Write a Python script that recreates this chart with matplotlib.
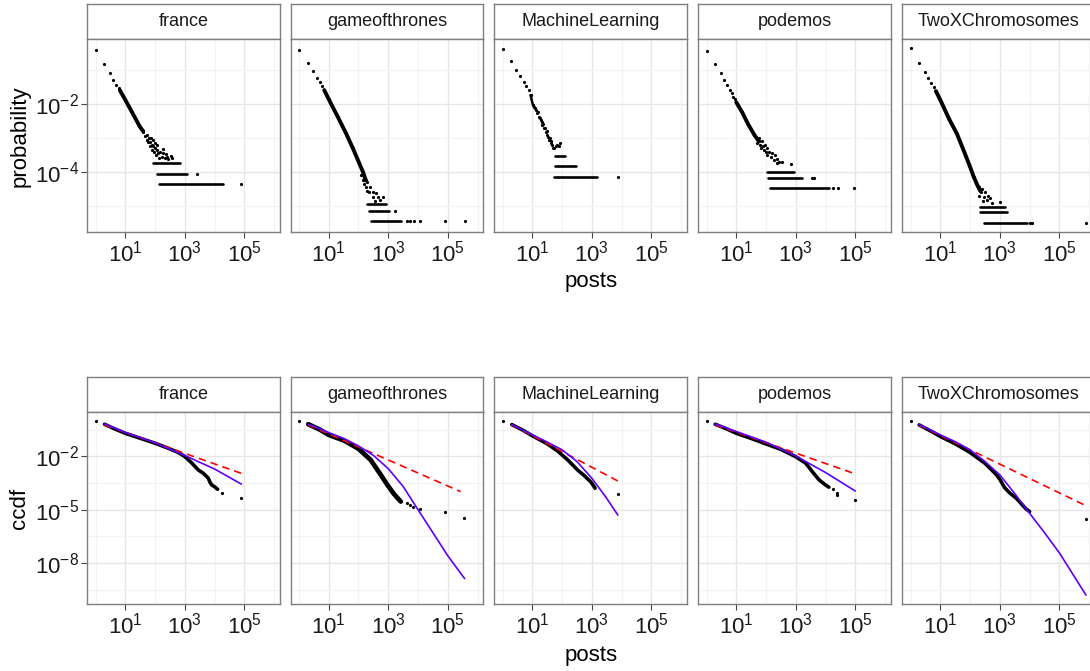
import matplotlib
matplotlib.use('Agg')
import matplotlib.pyplot as plt
import numpy as np
from matplotlib.ticker import FixedLocator, NullFormatter, FixedFormatter

plt.rcParams['font.family'] = ['Liberation Sans', 'DejaVu Sans']
plt.rcParams['mathtext.fontset'] = 'custom'
plt.rcParams['mathtext.rm'] = 'Liberation Sans'
plt.rcParams['mathtext.it'] = 'Liberation Sans:italic'

#@title Data (log10 values)

subs = ['france', 'gameofthrones', 'MachineLearning', 'podemos', 'TwoXChromosomes']

# top row: probability of a user having n posts
# single points (head, scatter, isolated tail)
pdf_pts = {
    'france': (
        [0.0, 0.30, 0.48, 0.60, 0.70, 0.78, 1.61, 1.66, 1.72, 1.72, 1.78, 1.83, 1.83, 1.89, 1.89, 1.94,
         1.97, 2.0, 2.03, 2.06, 2.10, 2.13, 2.17, 2.22, 2.28, 2.33, 2.39, 2.45, 2.58, 2.0, 1.92, 1.75,
         1.86, 2.08, 2.25, 2.36, 2.52, 3.40, 4.90],
        [-0.41, -0.82, -1.08, -1.29, -1.44, -1.54, -2.81, -2.95, -2.90, -3.05, -3.0, -3.11, -3.25, -3.20, -3.35, -3.25,
         -3.40, -3.30, -3.50, -3.35, -3.45, -3.60, -3.40, -3.55, -3.45, -3.60, -3.55, -3.62, -3.60, -3.15, -3.05, -3.12,
         -3.0, -3.22, -3.32, -3.48, -3.52, -4.05, -4.34]),
    'gameofthrones': (
        [0.0, 0.30, 0.48, 0.60, 0.70, 0.78, 2.10, 2.15, 2.2, 2.26, 2.3, 2.37, 2.4, 2.48, 2.5, 2.60, 2.65, 2.71,
         2.82, 2.55, 2.2, 2.3, 3.21, 3.63, 3.74, 3.85, 4.08, 4.90, 5.58],
        [-0.41, -0.80, -1.03, -1.23, -1.36, -1.46, -4.10, -4.24, -4.15, -4.43, -4.3, -4.58, -4.45, -4.73, -4.6, -4.63, -4.75, -4.82,
         -4.73, -4.85, -4.35, -4.55, -5.14, -5.43, -5.43, -5.43, -5.43, -5.43, -5.43]),
    'MachineLearning': (
        [0.0, 0.30, 0.46, 0.58, 0.72, 0.80, 0.89, 0.94, 1.02, 1.06, 1.09, 1.13, 1.17, 1.20, 1.22, 1.25, 1.28, 1.31,
         1.34, 1.37, 1.39, 1.42, 1.45, 1.48, 1.51, 1.53, 1.56, 1.59, 1.62, 1.64, 1.67, 1.70, 1.73, 1.78, 1.84, 1.88, 1.93, 3.89],
        [-0.38, -0.75, -1.0, -1.18, -1.34, -1.47, -1.59, -1.74, -2.03, -2.08, -2.13, -2.18, -2.27, -2.23, -2.37, -2.40, -2.47, -2.52,
         -2.62, -2.60, -2.72, -2.70, -2.81, -2.78, -2.91, -2.96, -3.06, -3.0, -3.16, -3.10, -3.21, -3.30, -3.30, -3.25, -3.22, -3.25, -3.15, -4.14]),
    'podemos': (
        [0.0, 0.30, 0.48, 0.60, 0.70, 0.78, 0.85, 0.90, 0.95, 1.70, 1.75, 1.8, 1.82, 1.85, 1.88, 1.93, 1.95, 2.0, 2.04,
         2.04, 2.1, 2.16, 2.2, 2.27, 2.3, 2.35, 2.38, 2.45, 2.55, 2.83, 3.54, 3.60, 4.24, 4.40, 4.97],
        [-0.43, -0.83, -1.08, -1.29, -1.44, -1.59, -1.69, -1.78, -1.86, -3.15, -3.0, -3.2, -3.3, -3.1, -3.25, -3.35, -3.2, -3.4, -3.3,
         -3.5, -3.4, -3.55, -3.45, -3.65, -3.5, -3.62, -3.75, -3.7, -3.72, -3.77, -4.17, -4.17, -4.48, -4.48, -4.48]),
    'TwoXChromosomes': (
        [0.0, 0.30, 0.48, 0.60, 0.70, 0.78, 2.2, 2.3, 2.35, 2.4, 2.46, 2.5, 2.57, 2.6, 2.68, 2.74, 2.99, 2.3, 2.42,
         4.0, 4.08, 5.90],
        [-0.36, -0.80, -1.05, -1.25, -1.39, -1.51, -4.3, -4.45, -4.6, -4.5, -4.73, -4.6, -4.82, -4.7, -4.77, -4.92, -4.89, -4.7, -4.85,
         -5.51, -5.51, -5.51]),
}

# dense diagonal stretch of the distribution
pdf_ridge = {
    'france': ([0.82, 1.0, 1.2, 1.49, 1.6], [-1.60, -1.88, -2.2, -2.67, -2.8]),
    'gameofthrones': ([0.85, 1.0, 1.3, 1.58, 1.8, 2.03, 2.15, 2.25], [-1.59, -1.86, -2.37, -2.86, -3.28, -3.75, -4.0, -4.25]),
    'MachineLearning': ([0.94, 1.02], [-1.74, -2.03]),
    'podemos': ([1.0, 1.2, 1.4, 1.6, 1.76], [-1.95, -2.25, -2.6, -2.9, -3.1]),
    'TwoXChromosomes': ([0.85, 1.0, 1.3, 1.56, 1.8, 2.0, 2.12, 2.25, 2.34],
                        [-1.62, -1.88, -2.45, -2.88, -3.4, -3.85, -4.14, -4.4, -4.55]),
}

# rows of equal probability (1, 2, 3 users): level, from, to
pdf_bands = {
    'france': [(-3.75, 1.94, 2.84), (-4.05, 2.06, 3.07), (-4.34, 2.13, 4.28)],
    'gameofthrones': [(-4.94, 2.28, 2.93), (-5.14, 2.35, 3.02), (-5.43, 2.43, 3.44)],
    'MachineLearning': [(-3.53, 1.76, 2.10), (-3.82, 1.76, 2.46), (-4.14, 1.73, 3.16)],
    'podemos': [(-4.0, 2.04, 2.94), (-4.17, 2.08, 3.22), (-4.48, 2.12, 4.12)],
    'TwoXChromosomes': [(-5.04, 2.32, 3.18), (-5.19, 2.32, 3.24), (-5.51, 2.46, 3.91)],
}

# bottom row: empirical ccdf
ccdf_pts = {
    'france': ([0.0, 4.24, 4.89], [0.0, -4.05, -4.36]),
    'gameofthrones': ([0.0, 3.62, 3.73, 3.84, 4.06, 4.89, 5.56], [0.0, -4.61, -4.74, -4.87, -4.96, -5.13, -5.45]),
    'MachineLearning': ([0.0, 3.87], [0.0, -4.14]),
    'podemos': ([0.0, 4.26, 4.39, 4.39, 4.99], [0.0, -3.86, -4.08, -4.20, -4.46]),
    'TwoXChromosomes': ([0.0, 5.89], [0.0, -5.51]),
}

ccdf_ridge = {
    'france': ([0.30, 0.64, 1.0, 1.43, 2.0, 2.44, 2.78, 3.0, 3.22, 3.45, 3.62, 3.79, 3.84, 3.90, 4.0, 4.10],
               [-0.20, -0.46, -0.71, -0.95, -1.27, -1.55, -1.79, -2.02, -2.36, -2.77, -2.96, -3.24, -3.45, -3.61, -3.72, -3.86]),
    'gameofthrones': ([0.31, 0.7, 1.0, 1.52, 2.0, 2.41, 2.75, 2.97, 3.19, 3.42],
                      [-0.20, -0.5, -0.80, -1.12, -1.58, -2.21, -3.05, -3.61, -4.12, -4.55]),
    'MachineLearning': ([0.31, 0.7, 1.0, 1.5, 1.86, 2.19, 2.52, 2.75, 2.97, 3.11],
                        [-0.22, -0.55, -0.85, -1.3, -1.72, -2.21, -2.77, -3.1, -3.45, -3.8]),
    'podemos': ([0.29, 0.7, 1.0, 1.5, 2.0, 2.5, 2.99, 3.33, 3.55, 3.78, 4.0, 4.11],
                [-0.20, -0.48, -0.71, -1.0, -1.31, -1.62, -2.02, -2.39, -2.86, -3.33, -3.62, -3.74]),
    'TwoXChromosomes': ([0.29, 0.7, 1.0, 1.5, 2.0, 2.5, 2.88, 3.0, 3.16, 3.33, 3.55, 3.89, 4.0],
                        [-0.24, -0.6, -0.89, -1.3, -1.79, -2.4, -3.03, -3.3, -3.77, -4.06, -4.36, -4.98, -5.11]),
}

# fitted power law (red, dashed)
pl_fit = {
    'france': ([0.30, 4.89], [-0.24, -2.96]),
    'gameofthrones': ([0.31, 5.43], [-0.24, -3.99]),
    'MachineLearning': ([0.31, 3.87], [-0.24, -3.39]),
    'podemos': ([0.29, 4.99], [-0.24, -2.99]),
    'TwoXChromosomes': ([0.29, 5.89], [-0.26, -4.78]),
}

# fitted log-normal (blue)
ln_fit = {
    'france': ([0.30, 1.0, 1.88, 3.0, 4.0, 4.89], [-0.18, -0.67, -1.17, -1.96, -2.72, -3.56]),
    'gameofthrones': ([0.31, 1.0, 1.5, 2.0, 2.5, 3.0, 3.5, 3.92, 4.5, 5.0, 5.56],
                      [-0.20, -0.67, -1.0, -1.42, -1.95, -2.7, -3.7, -4.8, -6.3, -7.6, -8.87]),
    'MachineLearning': ([0.31, 1.0, 1.5, 2.0, 2.5, 3.0, 3.45, 3.87], [-0.22, -0.80, -1.2, -1.64, -2.3, -3.24, -4.25, -5.30]),
    'podemos': ([0.29, 1.0, 2.0, 2.99, 4.0, 4.99], [-0.18, -0.61, -1.21, -1.98, -2.92, -3.95]),
    'TwoXChromosomes': ([0.29, 1.0, 1.5, 2.0, 2.5, 3.0, 3.5, 4.0, 4.5, 5.01, 5.89],
                        [-0.22, -0.80, -1.18, -1.64, -2.3, -3.05, -4.1, -5.21, -6.3, -7.46, -9.80]),
}

x_major = [1, 3, 5]
x_minor = [0, 2, 4, 6]
top_major = [-2, -4]
top_minor = [-1, -3, -5]
bot_major = [-2, -5, -8]
bot_minor = [-0.5, -3.5, -6.5, -9.5]


#@title Helper methods

W, H = 1090.0, 671.0
PANEL_LEFT = [87.3, 290.7, 494.3, 698.3, 902.3]
PANEL_W = 192.6
GREY = '#7f7f7f'


def px_axes(fig, left, top, w, h):
    return fig.add_axes([left / W, 1 - (top + h) / H, w / W, h / H])


def p10(v):
    return 10.0 ** np.asarray(v, dtype=float)


def style_panel(ax, col, ylim, ymajor, yminor):
    ax.set_xscale('log')
    ax.set_yscale('log')
    ax.set_xlim(10 ** -0.277, 10 ** 6.193)
    ax.set_ylim(10 ** ylim[0], 10 ** ylim[1])
    ax.xaxis.set_major_locator(FixedLocator(p10(x_major)))
    ax.xaxis.set_minor_locator(FixedLocator(p10(x_minor)))
    ax.xaxis.set_major_formatter(FixedFormatter([r'$10^{%d}$' % e for e in x_major]))
    ax.xaxis.set_minor_formatter(NullFormatter())
    ax.yaxis.set_major_locator(FixedLocator(p10(ymajor)))
    ax.yaxis.set_minor_locator(FixedLocator(p10(yminor)))
    ax.yaxis.set_major_formatter(FixedFormatter([r'$10^{%d}$' % e for e in ymajor]))
    ax.yaxis.set_minor_formatter(NullFormatter())
    ax.set_axisbelow(True)
    ax.grid(which='major', color='#e6e6e6', lw=1.0)
    ax.grid(which='minor', color='#f3f3f3', lw=0.9)
    for s in ax.spines.values():
        s.set_color(GREY)
        s.set_linewidth(1.0)
    ax.tick_params(which='minor', length=0)
    ax.tick_params(which='major', direction='out', length=4, width=0.8, color='#444444',
                   labelsize=16, labelcolor='#1a1a1a', pad=2)
    if col > 0:
        ax.tick_params(axis='y', which='major', length=0, labelleft=False)


def strip(fig, left, top, h, name):
    sax = px_axes(fig, left, top, PANEL_W, h)
    sax.set_xticks([])
    sax.set_yticks([])
    sax.set_facecolor('white')
    for s in sax.spines.values():
        s.set_color(GREY)
        s.set_linewidth(1.0)
    sax.text(0.5, 0.5, name, ha='center', va='center', fontsize=13, color='#1a1a1a',
             transform=sax.transAxes)


def dots(ax, lx, ly):
    ax.plot(p10(lx), p10(ly), 'o', ms=2.3, mew=0, color='black', zorder=3)


def ridge(ax, lx, ly, lw):
    ax.plot(p10(lx), p10(ly), '-', lw=lw, color='black', solid_capstyle='round', zorder=3)


#@title Figure

fig = plt.figure(figsize=(W / 100, H / 100), dpi=100)

for col, name in enumerate(subs):
    left = PANEL_LEFT[col]

    # top row: pdf
    strip(fig, left, 4.0, 35.3, name)
    ax = px_axes(fig, left, 39.3, PANEL_W, 193.0)
    style_panel(ax, col, (-5.774, -0.097), top_major, top_minor)
    dots(ax, *pdf_pts[name])
    ridge(ax, *pdf_ridge[name], lw=1.8 if name == 'MachineLearning' else 2.8)
    dots(ax, *pdf_ridge[name])
    for lev, x0, x1 in pdf_bands[name]:
        ax.hlines(10 ** lev, 10 ** x0, 10 ** x1, colors='black', lw=1.9, capstyle='round', zorder=3)

    # bottom row: ccdf with fits
    strip(fig, left, 376.5, 35.8, name)
    ax = px_axes(fig, left, 412.3, PANEL_W, 191.7)
    style_panel(ax, col, (-10.31, 0.47), bot_major, bot_minor)
    dots(ax, *ccdf_pts[name])
    ridge(ax, *ccdf_ridge[name], lw=3.4 if name == 'gameofthrones' else 2.6)
    ax.plot(p10(pl_fit[name][0]), p10(pl_fit[name][1]), color='red', lw=1.2,
            ls=(0, (4.5, 3)), zorder=4)
    ax.plot(p10(ln_fit[name][0]), p10(ln_fit[name][1]), color='#5c00ff', lw=1.2, zorder=5)

fig.text(20 / W, 1 - 135.8 / H, 'probability', rotation=90, ha='center', va='center',
         fontsize=16, color='black')
fig.text(20 / W, 1 - 508.0 / H, 'ccdf', rotation=90, ha='center', va='center',
         fontsize=16, color='black')
fig.text(591 / W, 1 - 281.0 / H, 'posts', ha='center', va='center', fontsize=16, color='black')
fig.text(591 / W, 1 - 655.0 / H, 'posts', ha='center', va='center', fontsize=16, color='black')

plt.savefig('out.png', dpi=100)
